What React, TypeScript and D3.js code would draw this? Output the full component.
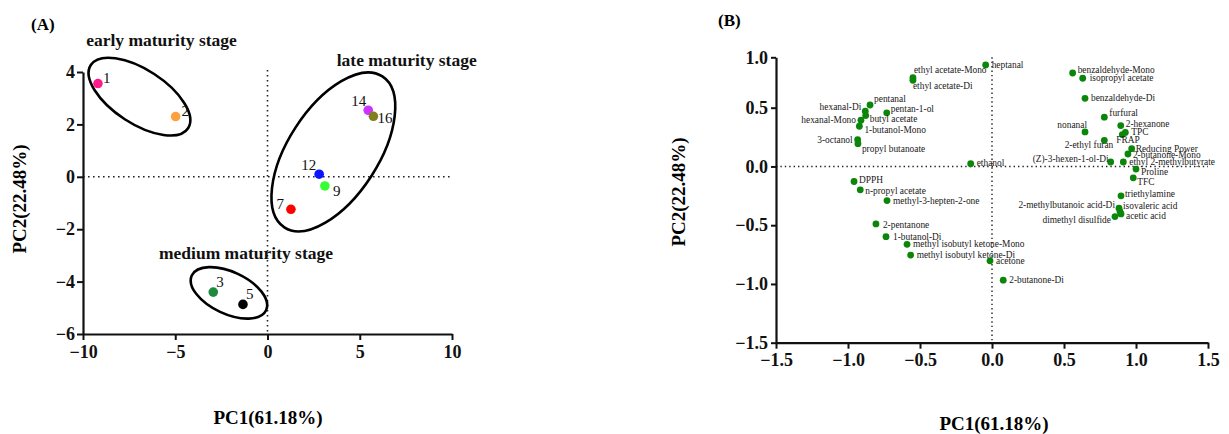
import { useEffect, useRef } from 'react';
import * as d3 from 'd3';

// ── panel A: sample scores ──────────────────────────────
const sampleIds = ['1', '2', '3', '5', '7', '9', '12', '14', '16'];
const samplePC1 = [-9.19, -4.98, -2.94, -1.33, 1.27, 3.11, 2.8, 5.46, 5.74];
const samplePC2 = [3.56, 2.3, -4.4, -4.87, -1.24, -0.35, 0.1, 2.54, 2.31];
const sampleColors = ['#ff1a8c', '#ffa040', '#1e8a3e', '#000000', '#ff0000', '#33ff33', '#0a14ff', '#cc33ff', '#7f7f1f'];

const stageNames = ['early maturity stage', 'late maturity stage', 'medium maturity stage'];
const stageCenterPC1 = [-6.94, 3.57, -2.09];
const stageCenterPC2 = [3.06, 0.95, -4.43];

const ticksA_x = [-10, -5, 0, 5, 10];
const ticksA_y = [-6, -4, -2, 0, 2, 4];

// ── panel B: loadings ───────────────────────────────────
const loadNames = [
  'heptanal', 'ethyl acetate-Mono', 'ethyl acetate-Di', 'pentanal', 'hexanal-Di', 'pentan-1-ol',
  'butyl acetate', 'hexanal-Mono', '1-butanol-Mono', '3-octanol', 'propyl butanoate', 'ethanol',
  'benzaldehyde-Mono', 'isopropyl acetate', 'benzaldehyde-Di', 'furfural', '2-hexanone', 'nonanal',
  'TPC', 'FRAP', '2-ethyl furan', 'Reducing Power', '2-butanone-Mono', '(Z)-3-hexen-1-ol-Di',
  'ethyl 2-methylbutyrate', 'Proline', 'TFC', 'triethylamine', '2-methylbutanoic acid-Di',
  'isovaleric acid', 'acetic acid', 'dimethyl disulfide', 'DPPH', 'n-propyl acetate',
  'methyl-3-hepten-2-one', '2-pentanone', '1-butanol-Di', 'methyl isobutyl ketone-Mono',
  'methyl isobutyl ketone-Di', 'acetone', '2-butanone-Di',
];
const loadPC1 = [
  -0.044, -0.549, -0.549, -0.847, -0.88, -0.731,
  -0.877, -0.91, -0.921, -0.933, -0.931, -0.148,
  0.56, 0.63, 0.646, 0.78, 0.894, 0.646,
  0.926, 0.905, 0.78, 0.97, 0.944, 0.824,
  0.912, 1.0, 0.981, 0.896, 0.882,
  0.889, 0.896, 0.854, -0.958, -0.915,
  -0.729, -0.806, -0.736, -0.59,
  -0.565, -0.014, 0.078,
];
const loadPC2 = [
  0.924, 0.798, 0.772, 0.527, 0.47, 0.456,
  0.433, 0.393, 0.342, 0.228, 0.194, 0.023,
  0.844, 0.792, 0.593, 0.419, 0.348, 0.294,
  0.29, 0.271, 0.222, 0.151, 0.106, 0.038,
  0.038, -0.022, -0.097, -0.25, -0.355,
  -0.384, -0.404, -0.427, -0.128, -0.199,
  -0.29, -0.489, -0.598, -0.663,
  -0.754, -0.803, -0.968,
];

const ticksB = [-1.5, -1.0, -0.5, 0.0, 0.5, 1.0, 1.5];
const ticksB_y = [-1.5, -1.0, -0.5, 0.0, 0.5, 1.0];

// label placement (dx, dy, anchor) – layout only
const sampleLabelPos: Record<string, [number, number, string]> = {
  '1': [5, -1, 'start'], '2': [6, -1, 'start'], '3': [3, -5, 'start'], '5': [3, -5, 'start'],
  '7': [-7, 0, 'end'], '9': [8, 10, 'start'], '12': [-3, -4, 'end'], '14': [-2, -4, 'end'],
  '16': [4, 7, 'start'],
};
const stageShape = [
  { rx: 58, ry: 27, rot: 33, lx: 161.5, ly: 46 },
  { rx: 90, ry: 45, rot: -57, lx: 406.7, ly: 66 },
  { rx: 41, ry: 21, rot: 25, lx: 246, ly: 259 },
];
const loadLabelPos: Record<string, [number, number, string]> = {
  'ethyl acetate-Mono': [1, -8, 'start'], 'ethyl acetate-Di': [0, 6, 'start'],
  pentanal: [4, -6, 'start'], 'hexanal-Di': [-4, -4, 'end'], 'pentan-1-ol': [4, -4, 'start'],
  'butyl acetate': [4, 3, 'start'], 'hexanal-Mono': [-5, 0, 'end'], '1-butanol-Mono': [5, 4, 'start'],
  '3-octanol': [-5, 0, 'end'], 'propyl butanoate': [4, 5, 'start'], ethanol: [6, -1, 'start'],
  'benzaldehyde-Mono': [5, -3, 'start'], 'isopropyl acetate': [7, 0, 'start'],
  furfural: [5, -4, 'start'], '2-hexanone': [5, -2, 'start'], nonanal: [2, -7, 'end'],
  FRAP: [-6, 5, 'start'], '2-ethyl furan': [9, 5, 'end'], 'Reducing Power': [4, 0, 'start'],
  '2-butanone-Mono': [5, 1, 'start'], '(Z)-3-hexen-1-ol-Di': [-2, -3, 'end'],
  Proline: [5, 3, 'start'], TFC: [4, 4, 'start'], triethylamine: [4, -2, 'start'],
  '2-methylbutanoic acid-Di': [-4, -3, 'end'], 'isovaleric acid': [3, -6, 'start'],
  'acetic acid': [5, 2, 'start'], 'dimethyl disulfide': [-4, 3, 'end'], DPPH: [5, -2, 'start'],
  'n-propyl acetate': [5, 1, 'start'], '2-pentanone': [7, 1, 'start'], '1-butanol-Di': [7, 0, 'start'],
};

const FONT = "'Liberation Serif', 'Times New Roman', serif";
const fmt = (d: number) => (d < 0 ? '\u2212' + Math.abs(d) : String(d));
const fmt1 = (d: number) => (d < 0 ? '\u2212' + Math.abs(d).toFixed(1) : d.toFixed(1));

export default function App() {
  const ref = useRef<SVGSVGElement>(null);

  useEffect(() => {
    const svg = d3.select(ref.current);
    svg.selectAll('*').remove();

    const styleAxis = (g: any) => {
      g.select('.domain').attr('stroke', '#111').attr('stroke-width', 2.2);
      g.selectAll('.tick line').attr('stroke', '#111').attr('stroke-width', 2);
      g.selectAll('.tick text')
        .attr('font-family', FONT).attr('font-size', 18).attr('font-weight', 700).attr('fill', '#111');
    };

    // ── Panel A ─────────────────────────────────────────
    const xA = d3.scaleLinear().domain([-10, 10]).range([83, 452]);
    const yA = d3.scaleLinear().domain([-6, 4]).range([334, 72]);
    const A = svg.append('g');

    A.append('text').attr('x', 31).attr('y', 30).text('(A)')
      .attr('font-family', FONT).attr('font-size', 17).attr('font-weight', 700);

    // 기준 점선
    A.append('line').attr('x1', xA(-10)).attr('x2', xA(10)).attr('y1', yA(0)).attr('y2', yA(0))
      .attr('stroke', '#222').attr('stroke-width', 1.6).attr('stroke-dasharray', '1.6,3.4');
    A.append('line').attr('x1', xA(0)).attr('x2', xA(0)).attr('y1', yA(4) - 2).attr('y2', yA(-6))
      .attr('stroke', '#222').attr('stroke-width', 1.6).attr('stroke-dasharray', '1.6,3.4');

    A.append('g').attr('transform', `translate(0,${yA(-6)})`)
      .call(d3.axisBottom(xA).tickValues(ticksA_x).tickSize(6).tickSizeOuter(0).tickPadding(5).tickFormat(fmt as any))
      .call(styleAxis);
    A.append('g').attr('transform', `translate(${xA(-10)},0)`)
      .call(d3.axisLeft(yA).tickValues(ticksA_y).tickSize(6).tickSizeOuter(0).tickPadding(2).tickFormat(fmt as any))
      .call(styleAxis);

    stageNames.forEach((name, i) => {
      const s = stageShape[i];
      A.append('ellipse')
        .attr('transform', `translate(${xA(stageCenterPC1[i])},${yA(stageCenterPC2[i])}) rotate(${s.rot})`)
        .attr('rx', s.rx).attr('ry', s.ry)
        .attr('fill', 'none').attr('stroke', '#000').attr('stroke-width', 2.6);
      A.append('text').attr('x', s.lx).attr('y', s.ly).attr('text-anchor', 'middle').text(name)
        .attr('font-family', FONT).attr('font-size', 17.5).attr('font-weight', 700).attr('fill', '#111');
    });

    sampleIds.forEach((id, i) => {
      const cx = xA(samplePC1[i]);
      const cy = yA(samplePC2[i]);
      A.append('circle').attr('cx', cx).attr('cy', cy).attr('r', 4.8).attr('fill', sampleColors[i]);
      const [dx, dy, anchor] = sampleLabelPos[id];
      A.append('text').attr('x', cx + dx).attr('y', cy + dy).attr('text-anchor', anchor).text(id)
        .attr('font-family', FONT).attr('font-size', 15).attr('fill', '#111');
    });

    A.append('text').attr('x', 268).attr('y', 424).attr('text-anchor', 'middle').text('PC1(61.18%)')
      .attr('font-family', FONT).attr('font-size', 19).attr('font-weight', 700);
    A.append('text').attr('transform', 'translate(26,199) rotate(-90)').attr('text-anchor', 'middle')
      .text('PC2(22.48%)').attr('font-family', FONT).attr('font-size', 19).attr('font-weight', 700);

    // ── Panel B ─────────────────────────────────────────
    const xB = d3.scaleLinear().domain([-1.5, 1.5]).range([776, 1208]);
    const yB = d3.scaleLinear().domain([-1.5, 0.5, 1.0]).range([342.7, 107.7, 57.3]);
    const B = svg.append('g');

    B.append('text').attr('x', 718).attr('y', 26).text('(B)')
      .attr('font-family', FONT).attr('font-size', 17).attr('font-weight', 700);

    B.append('line').attr('x1', xB(-1.5)).attr('x2', xB(1.5)).attr('y1', yB(0)).attr('y2', yB(0))
      .attr('stroke', '#222').attr('stroke-width', 1.4).attr('stroke-dasharray', '1.4,3');
    B.append('line').attr('x1', xB(0)).attr('x2', xB(0)).attr('y1', yB(1.0)).attr('y2', yB(-1.5))
      .attr('stroke', '#222').attr('stroke-width', 1.4).attr('stroke-dasharray', '1.4,3');

    B.append('g').attr('transform', `translate(0,${yB(-1.5)})`)
      .call(d3.axisBottom(xB).tickValues(ticksB).tickSize(6).tickSizeOuter(0).tickPadding(5).tickFormat(fmt1 as any))
      .call(styleAxis);
    B.append('g').attr('transform', `translate(${xB(-1.5)},0)`)
      .call(d3.axisLeft(yB).tickValues(ticksB_y).tickSize(5).tickSizeOuter(0).tickPadding(3).tickFormat(fmt1 as any))
      .call(styleAxis);

    loadNames.forEach((name, i) => {
      const cx = xB(loadPC1[i]);
      const cy = yB(loadPC2[i]);
      B.append('circle').attr('cx', cx).attr('cy', cy).attr('r', 3.4).attr('fill', '#0b860b');
      const [dx, dy, anchor] = loadLabelPos[name] || [6, 0, 'start'];
      B.append('text').attr('x', cx + dx).attr('y', cy + dy).attr('dy', '0.33em')
        .attr('text-anchor', anchor).text(name)
        .attr('font-family', FONT).attr('font-size', 9.4).attr('fill', '#1a1a1a');
    });

    B.append('text').attr('x', 994).attr('y', 430).attr('text-anchor', 'middle').text('PC1(61.18%)')
      .attr('font-family', FONT).attr('font-size', 19).attr('font-weight', 700);
    B.append('text').attr('transform', 'translate(685,192) rotate(-90)').attr('text-anchor', 'middle')
      .text('PC2(22.48%)').attr('font-family', FONT).attr('font-size', 19).attr('font-weight', 700);
  }, []);

  return (
    <svg ref={ref} width={1229} height={434}
      style={{ position: 'absolute', left: 0, top: 0, background: '#fff' }} />
  );
}
